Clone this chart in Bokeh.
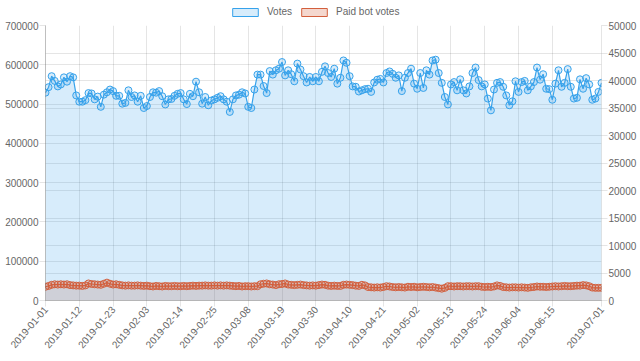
import pandas as pd
from bokeh.plotting import figure
from bokeh.layouts import column
from bokeh.models import (Range1d, LinearAxis, FixedTicker, Grid, Legend, LegendItem,
                          BasicTickFormatter, ColumnDataSource)
from bokeh.embed import file_html
from bokeh.resources import INLINE

# ---------------- data ----------------
dates = [d.strftime("%Y-%m-%d") for d in pd.date_range("2019-01-01", "2019-07-01", freq="D")]

votes_k = [
    529, 543, 571, 559, 545, 550, 568, 557, 571, 568,
    522, 506, 506, 510, 528, 527, 512, 519, 493, 524,
    530, 537, 533, 521, 521, 501, 503, 535, 518, 522,
    506, 521, 490, 495, 518, 530, 529, 533, 520, 499,
    512, 513, 521, 526, 528, 512, 500, 526, 520, 557,
    530, 501, 518, 497, 509, 512, 516, 520, 512, 506,
    480, 512, 522, 524, 530, 527, 493, 490, 537, 575,
    575, 546, 528, 584, 575, 586, 590, 607, 573, 586,
    576, 558, 603, 588, 571, 555, 569, 558, 569, 558,
    582, 596, 579, 569, 590, 552, 567, 611, 605, 571,
    545, 544, 532, 535, 538, 539, 531, 555, 562, 564,
    555, 579, 583, 577, 567, 573, 533, 567, 579, 590,
    552, 539, 579, 541, 586, 575, 611, 613, 579, 554,
    518, 499, 550, 556, 535, 563, 535, 527, 545, 579,
    593, 561, 545, 550, 514, 484, 537, 554, 556, 544,
    522, 497, 507, 558, 531, 556, 559, 535, 545, 556,
    593, 562, 576, 539, 538, 511, 552, 586, 544, 554,
    589, 544, 514, 516, 563, 539, 566, 550, 511, 514,
    531, 554,
]
votes = [v * 1000 for v in votes_k]

paid_bot_votes = [
    2500, 2650, 2850, 2950, 2900, 2950, 2900, 2950, 2800, 2750,
    2700, 2700, 2650, 2750, 3100, 3000, 2950, 2900, 2850, 3050,
    3250, 3050, 2900, 2950, 2850, 2750, 2700, 2750, 2700, 2700,
    2750, 2700, 2650, 2700, 2600, 2550, 2650, 2600, 2550, 2650,
    2600, 2600, 2650, 2600, 2600, 2650, 2600, 2650, 2700, 2650,
    2700, 2700, 2750, 2700, 2700, 2750, 2700, 2750, 2700, 2750,
    2700, 2650, 2600, 2650, 2550, 2600, 2600, 2550, 2600, 2600,
    2950, 3050, 3100, 2950, 2900, 2800, 2950, 3000, 3100, 2900,
    2850, 2800, 2850, 2900, 2800, 2750, 2700, 2750, 2700, 2800,
    2900, 2850, 2700, 2650, 2700, 2650, 2650, 2850, 2900, 2850,
    2800, 2700, 2650, 2850, 2750, 2450, 2400, 2350, 2400, 2350,
    2450, 2600, 2550, 2450, 2400, 2450, 2400, 2350, 2500, 2450,
    2500, 2400, 2450, 2500, 2450, 2400, 2450, 2350, 2250, 2150,
    2300, 2600, 2600, 2550, 2600, 2600, 2550, 2600, 2600, 2550,
    2600, 2600, 2500, 2450, 2500, 2450, 2550, 2750, 2650, 2450,
    2400, 2350, 2400, 2400, 2350, 2400, 2350, 2300, 2400, 2450,
    2550, 2500, 2500, 2450, 2500, 2550, 2600, 2550, 2600, 2650,
    2600, 2600, 2650, 2700, 2700, 2800, 2750, 2600, 2350, 2300,
    2300, 2300,
]

tick_days = [0, 11, 22, 33, 44, 55, 66, 77, 88, 99, 110, 121, 132, 143, 154, 165, 181]
left_ticks = list(range(0, 700001, 100000))
right_ticks = list(range(0, 50001, 5000))
series_labels = ["Votes", "Paid bot votes"]

# ---------------- styling ----------------
BLUE = "#36a2eb"
RED = "#d35f3d"
GRID = "rgba(0,0,0,0.1)"
ZERO = "rgba(0,0,0,0.25)"
TXT = "#666666"
FONT = "Liberation Sans"
W = 640

x = list(range(len(dates)))
src = ColumnDataSource(dict(x=x, votes=votes, paid=paid_bot_votes))

# ---------------- legend strip ----------------
lg = figure(width=W, height=20, output_backend="svg", toolbar_location=None,
            x_range=Range1d(0, 1), y_range=Range1d(0, 1), min_border=0,
            x_axis_location=None, y_axis_location=None)
lg.grid.visible = False
lg.outline_line_color = None
lv = lg.quad(left=[0], right=[0], top=[0], bottom=[0], fill_color=BLUE,
             fill_alpha=0.2, line_color=BLUE, line_width=1, visible=False)
lp = lg.quad(left=[0], right=[0], top=[0], bottom=[0], fill_color=RED,
             fill_alpha=0.25, line_color=RED, line_width=1, visible=False)
legend = Legend(items=[LegendItem(label=series_labels[0], renderers=[lv]),
                       LegendItem(label=series_labels[1], renderers=[lp])],
                orientation="horizontal", location=(184, 3),
                glyph_width=32, glyph_height=10, label_height=10,
                label_text_font_size="10px", label_text_color=TXT, label_text_font=FONT,
                label_standoff=6, spacing=6, padding=0, margin=0,
                border_line_color=None, background_fill_alpha=0,
                inactive_fill_alpha=0)
lg.add_layout(legend)

# ---------------- main chart ----------------
p = figure(width=W, height=334, output_backend="svg", toolbar_location=None,
           x_range=Range1d(0, len(dates) - 1), y_range=Range1d(0, 700000),
           min_border=0, min_border_left=45, min_border_right=39, min_border_top=5)
p.extra_y_ranges = {"right": Range1d(0, 50000)}
p.outline_line_color = None
p.background_fill_color = "white"
p.border_fill_color = "white"

# fills: paid bot area beneath the votes area
p.varea(x="x", y1=0, y2="paid", source=src, y_range_name="right",
        fill_color=RED, fill_alpha=0.22)
p.varea(x="x", y1=0, y2="votes", source=src, fill_color=BLUE, fill_alpha=0.2)

# votes line + points (left axis)
p.line(x="x", y="votes", source=src, line_color=BLUE, line_width=1.2)
p.scatter(x="x", y="votes", source=src, size=7,
          fill_color=BLUE, fill_alpha=0.2, line_color=BLUE, line_width=1)

# paid bot votes line + points (right axis)
p.line(x="x", y="paid", source=src, y_range_name="right", line_color=RED, line_width=1.2)
p.scatter(x="x", y="paid", source=src, y_range_name="right", size=7,
          fill_color=RED, fill_alpha=0.2, line_color=RED, line_width=1)

def style_axis(ax):
    ax.major_label_text_font_size = "10px"
    ax.major_label_text_color = TXT
    ax.major_label_text_font = FONT
    ax.major_tick_line_color = GRID
    ax.major_tick_out = 6
    ax.major_tick_in = 0
    ax.minor_tick_line_color = None
    ax.major_label_standoff = 1

xa = p.xaxis[0]
xa.ticker = FixedTicker(ticks=tick_days)
xa.major_label_overrides = {i: dates[i] for i in tick_days}
xa.major_label_orientation = 0.86
style_axis(xa)
xa.axis_line_color = ZERO

ya = p.yaxis[0]
ya.ticker = FixedTicker(ticks=left_ticks)
ya.formatter = BasicTickFormatter(use_scientific=False)
style_axis(ya)
ya.axis_line_color = ZERO

ra = LinearAxis(y_range_name="right", ticker=FixedTicker(ticks=right_ticks),
                formatter=BasicTickFormatter(use_scientific=False))
style_axis(ra)
ra.axis_line_color = GRID
p.add_layout(ra, "right")

p.xgrid.ticker = FixedTicker(ticks=tick_days)
p.xgrid.grid_line_color = GRID
p.ygrid.ticker = FixedTicker(ticks=left_ticks)
p.ygrid.grid_line_color = GRID
rg = Grid(dimension=1, ticker=FixedTicker(ticks=right_ticks), y_range_name="right",
          grid_line_color=GRID)
p.add_layout(rg)

layout = column(lg, p, spacing=0)
open("out.html", "w").write(file_html(layout, INLINE))
